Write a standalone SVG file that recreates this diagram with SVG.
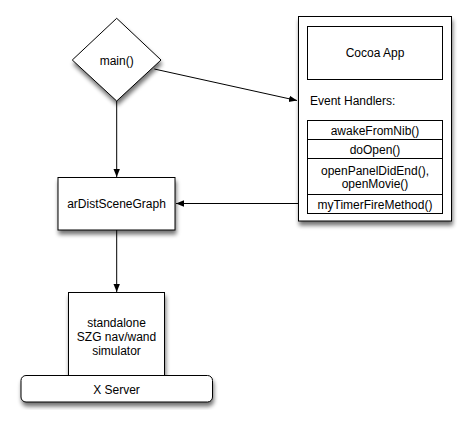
<svg xmlns="http://www.w3.org/2000/svg" width="472" height="427" viewBox="0 0 472 427">
<defs>
<style>
.n{fill:#fff;stroke:#000;stroke-width:1}
.t{font-family:"Liberation Sans",Arial,sans-serif;font-size:12px;fill:#000;text-anchor:middle}
.c{stroke:#000;stroke-width:1;fill:none;marker-end:url(#ah)}
</style>
<filter id="sh" x="-20%" y="-20%" width="150%" height="150%">
<feGaussianBlur in="SourceAlpha" stdDeviation="2.2"/>
<feOffset dx="1" dy="4" result="b"/>
<feComponentTransfer><feFuncA type="linear" slope="0.55"/></feComponentTransfer>
<feMerge><feMergeNode/><feMergeNode in="SourceGraphic"/></feMerge>
</filter>
<marker id="ah" viewBox="0 0 10 10" refX="10" refY="5" markerWidth="8" markerHeight="8" markerUnits="userSpaceOnUse" orient="auto">
<path d="M0,1 L10,5 L0,9 z" fill="#000"/>
</marker>
</defs>
<rect width="472" height="427" fill="#fff"/>
<g id="connectors">
<line class="c" x1="116.7" y1="101" x2="116.7" y2="177"/>
<line class="c" x1="154.3" y1="69" x2="297" y2="100.5"/>
<line class="c" x1="116.7" y1="230" x2="116.7" y2="292"/>
<line class="c" x1="307" y1="203.5" x2="176" y2="203.5"/>
</g>
<g id="main">
<path class="n" filter="url(#sh)" d="M116.7,18.3 L161,60 L116.7,101 L72.3,60 z"/>
<text class="t" x="116.7" y="64.5">main()</text>
</g>
<g id="cocoa">
<rect class="n" filter="url(#sh)" x="298.5" y="16.5" width="153" height="204.5"/>
<g id="cocoaApp">
<rect class="n" x="307.5" y="26.5" width="135" height="53"/>
<text class="t" x="375" y="57">Cocoa App</text>
</g>
<text class="t" x="310" y="104.5" style="text-anchor:start">Event Handlers:</text>
<g id="handlers">
<rect class="n" x="307.5" y="120.5" width="135" height="93"/>
<line x1="307.5" y1="139.5" x2="442.5" y2="139.5" stroke="#000"/>
<line x1="307.5" y1="158.5" x2="442.5" y2="158.5" stroke="#000"/>
<line x1="307.5" y1="194.5" x2="442.5" y2="194.5" stroke="#000"/>
<text class="t" x="375" y="135">awakeFromNib()</text>
<text class="t" x="375" y="153.5">doOpen()</text>
<text class="t" x="375" y="175">openPanelDidEnd(),</text>
<text class="t" x="375" y="188">openMovie()</text>
<text class="t" x="375" y="208.5">myTimerFireMethod()</text>
</g>
</g>
<g id="arDistSceneGraph">
<rect class="n" filter="url(#sh)" x="58" y="177.5" width="117" height="52.5"/>
<text class="t" x="116.5" y="208">arDistSceneGraph</text>
</g>
<g id="simulator">
<rect class="n" filter="url(#sh)" x="68.5" y="292.5" width="96" height="84"/>
<text class="t" x="116.5" y="326.5">standalone</text>
<text class="t" x="116.5" y="340.5">SZG nav/wand</text>
<text class="t" x="116.5" y="354.5">simulator</text>
</g>
<g id="xserver">
<rect class="n" filter="url(#sh)" x="21" y="375.5" width="191.5" height="26.5" rx="5" ry="5"/>
<text class="t" x="116.5" y="394">X Server</text>
</g>
</svg>
